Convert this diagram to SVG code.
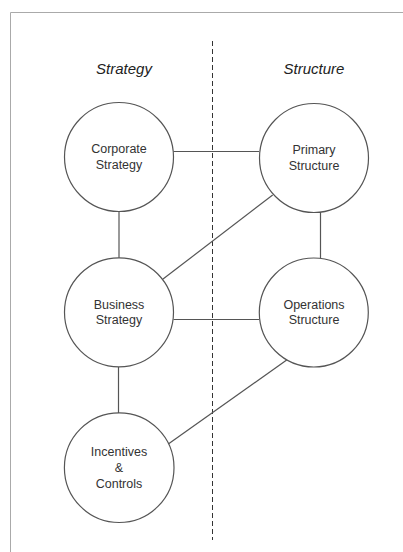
<svg xmlns="http://www.w3.org/2000/svg" width="403" height="552" viewBox="0 0 403 552">
<style>
.node circle{fill:#fff;stroke:#555;stroke-width:1.2}
.node text{font-family:"Liberation Sans",Arial,sans-serif;font-size:12.5px;fill:#333;text-anchor:middle}
.hdr{font-family:"Liberation Sans",Arial,sans-serif;font-size:15px;font-style:italic;fill:#222;text-anchor:middle}
#connectors line{stroke:#555;stroke-width:1.2}
</style>
<rect width="403" height="552" fill="#fff"/>
<path d="M10.5 552 V12.5 H403" fill="none" stroke="#aaa" stroke-width="1"/>
<line x1="212.5" y1="41" x2="212.5" y2="540" stroke="#333" stroke-width="1" stroke-dasharray="5 3"/>
<text class="hdr" x="124" y="74">Strategy</text>
<text class="hdr" x="314" y="74">Structure</text>
<g id="connectors">
<line x1="173.5" y1="151.5" x2="259" y2="151.5"/>
<line x1="119" y1="212" x2="119" y2="258"/>
<line x1="320.5" y1="212" x2="320.5" y2="258.5"/>
<line x1="162.7" y1="279.3" x2="272.7" y2="195"/>
<line x1="173.5" y1="319.5" x2="259" y2="319.5"/>
<line x1="118.5" y1="367" x2="118.5" y2="413"/>
<line x1="286.7" y1="360" x2="168.3" y2="444"/>
</g>
<g id="corporate" class="node"><circle cx="119" cy="157" r="54.5"/><text x="119" y="153">Corporate</text><text x="119" y="168.5">Strategy</text></g>
<g id="primary" class="node"><circle cx="314" cy="158" r="54.5"/><text x="314" y="154">Primary</text><text x="314" y="169.5">Structure</text></g>
<g id="business" class="node"><circle cx="119" cy="312.3" r="54.5"/><text x="119" y="308.5">Business</text><text x="119" y="324">Strategy</text></g>
<g id="operations" class="node"><circle cx="313.8" cy="312.5" r="54.5"/><text x="314" y="308.5">Operations</text><text x="314" y="324">Structure</text></g>
<g id="incentives" class="node"><circle cx="119.2" cy="467.7" r="54.8"/><text x="119" y="456">Incentives</text><text x="119" y="472">&amp;</text><text x="119" y="487.5">Controls</text></g>
</svg>
